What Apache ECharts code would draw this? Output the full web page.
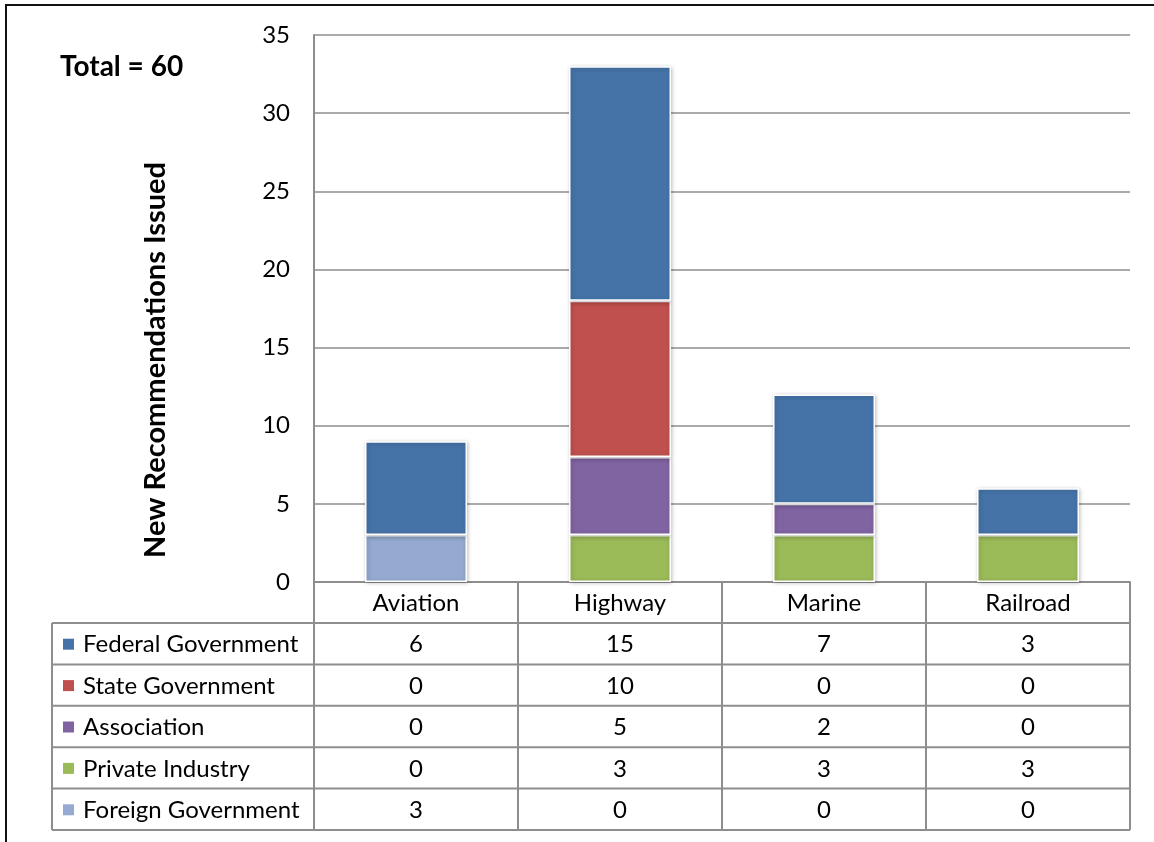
<!DOCTYPE html>
<html><head><meta charset="utf-8">
<script src="https://cdn.jsdelivr.net/npm/echarts@6/dist/echarts.min.js"></script>
<style>html,body{margin:0;padding:0;background:#fff}#c{width:1154px;height:842px}</style>
</head><body><div id="c"></div>
<script>
const categories = ['Aviation', 'Highway', 'Marine', 'Railroad'];
const seriesNames = ['Federal Government', 'State Government', 'Association', 'Private Industry', 'Foreign Government'];
const federal = [6, 15, 7, 3];
const state = [0, 10, 0, 0];
const association = [0, 5, 2, 0];
const privateIndustry = [0, 3, 3, 3];
const foreign = [3, 0, 0, 0];
const yTicks = [0, 5, 10, 15, 20, 25, 30, 35];
const colors = ['#4573A8', '#C0504D', '#8064A2', '#9BBB59', '#95A9D1'];
const tableRows = [federal, state, association, privateIndustry, foreign];

const FONT = 'Lato';
const FS = 24;
const GRID = '#8e8e8e';
const chart = echarts.init(document.getElementById('c'), null, {renderer: 'canvas'});

// stack from bottom: foreign, private, association, state, federal
const stackOrder = [4, 3, 2, 1, 0];
const series = stackOrder.map(i => ({
  name: seriesNames[i],
  type: 'bar',
  stack: 'total',
  barWidth: '50%',
  data: tableRows[i].map(v => v === 0 ? '-' : v),
  itemStyle: {color: colors[i], borderColor: '#ffffff', borderWidth: 1.5,
    shadowBlur: 4, shadowColor: 'rgba(0,0,0,0.25)', shadowOffsetX: 1, shadowOffsetY: 1},
  emphasis: {disabled: true}
}));

chart.setOption({
  animation: false,
  grid: {left: 314, right: 24, top: 35, bottom: 260, containLabel: false},
  xAxis: {type: 'category', data: categories,
    axisLine: {show: true, lineStyle: {color: GRID, width: 2}},
    axisTick: {show: false}, axisLabel: {show: false}, splitLine: {show: false}},
  yAxis: {type: 'value', min: yTicks[0], max: yTicks[yTicks.length - 1], interval: 5,
    axisLine: {show: true, lineStyle: {color: GRID, width: 2}},
    axisTick: {show: false},
    axisLabel: {fontFamily: FONT, fontSize: FS, color: '#000', margin: 24},
    splitLine: {lineStyle: {color: GRID, width: 1.5}}},
  series: series
});

// Build data table and decorations from the arrays
const g = [];
const x0 = chart.convertToPixel({xAxisIndex: 0}, categories[0]);
const x1 = chart.convertToPixel({xAxisIndex: 0}, categories[1]);
const band = x1 - x0;
const left = x0 - band / 2;
const right = chart.convertToPixel({xAxisIndex: 0}, categories[categories.length - 1]) + band / 2;
const axisY = chart.convertToPixel({yAxisIndex: 0}, 0);
const headerH = 41;
const rowH = 41.4;
const tableLeft = 52;
const lineStyle = {stroke: GRID, lineWidth: 2};
const rowsTop = axisY + headerH;
const bottom = rowsTop + rowH * tableRows.length;
const font = FS + 'px ' + FONT;

categories.forEach((c) => {
  const cx = chart.convertToPixel({xAxisIndex: 0}, c);
  g.push({type: 'text', x: cx, y: axisY + headerH / 2 + 1, style: {text: c, fill: '#000', font: font, align: 'center', verticalAlign: 'middle'}});
});
for (let j = 0; j <= categories.length; j++) {
  const x = left + band * j;
  g.push({type: 'line', shape: {x1: x, y1: axisY, x2: x, y2: bottom}, style: lineStyle});
}
g.push({type: 'line', shape: {x1: tableLeft, y1: rowsTop, x2: tableLeft, y2: bottom}, style: lineStyle});
for (let r = 0; r <= tableRows.length; r++) {
  const y = rowsTop + rowH * r;
  g.push({type: 'line', shape: {x1: tableLeft, y1: y, x2: right, y2: y}, style: lineStyle});
}
g.push({type: 'line', shape: {x1: left, y1: axisY, x2: right, y2: axisY}, style: lineStyle});
tableRows.forEach((row, r) => {
  const cy = rowsTop + rowH * r + rowH / 2;
  g.push({type: 'rect', shape: {x: 63, y: cy - 5, width: 11, height: 11}, style: {fill: colors[r]}});
  g.push({type: 'text', x: 83, y: cy + 1, style: {text: seriesNames[r], fill: '#000', font: font, align: 'left', verticalAlign: 'middle'}});
  row.forEach((v, j) => {
    const cx = chart.convertToPixel({xAxisIndex: 0}, categories[j]);
    g.push({type: 'text', x: cx, y: cy + 1, style: {text: String(v), fill: '#000', font: font, align: 'center', verticalAlign: 'middle'}});
  });
});
g.push({type: 'text', x: 156, y: 360, rotation: Math.PI / 2, style: {text: 'New Recommendations Issued', fill: '#000', font: 'bold 29px ' + FONT, align: 'center', verticalAlign: 'middle'}});
const total = tableRows.reduce((s, row) => s + row.reduce((a, b) => a + b, 0), 0);
g.push({type: 'text', x: 60, y: 67, style: {text: 'Total = ' + total, fill: '#000', font: 'bold 28px ' + FONT, align: 'left', verticalAlign: 'middle'}});
g.push({type: 'line', shape: {x1: 5, y1: 5, x2: 1154, y2: 5}, style: {stroke: '#111', lineWidth: 2}});
g.push({type: 'line', shape: {x1: 6, y1: 5, x2: 6, y2: 842}, style: {stroke: '#111', lineWidth: 2}});

chart.setOption({graphic: {elements: g}});
</script></body></html>
